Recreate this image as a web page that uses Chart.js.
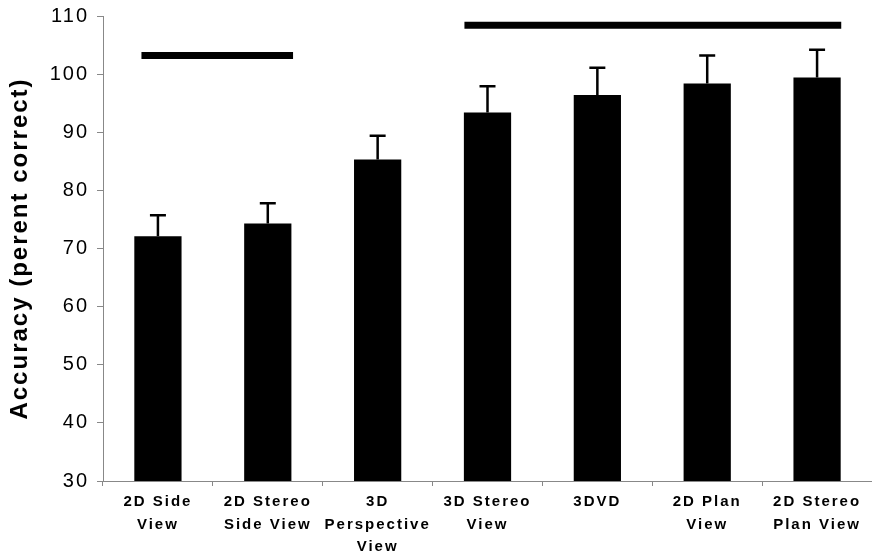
<!DOCTYPE html>
<html>
<head>
<meta charset="utf-8">
<script src="https://cdn.jsdelivr.net/npm/chart.js@4"></script>
<style>
  html, body { margin: 0; background: #fff; }
  #wrap { width: 872px; height: 553px; }
</style>
</head>
<body>
<div id="wrap"><canvas id="chart"></canvas></div>
<script>
var LABELS = [
  ['2D Side', 'View'],
  ['2D Stereo', 'Side View'],
  ['3D', 'Perspective', 'View'],
  ['3D Stereo', 'View'],
  ['3DVD'],
  ['2D Plan', 'View'],
  ['2D Stereo', 'Plan View']
];
var ACCURACY = [72.1, 74.3, 85.3, 93.4, 96.4, 98.4, 99.4];
var ERR_UP = [3.6, 3.5, 4.1, 4.5, 4.7, 4.8, 4.8];
var Y_TICKS = [30, 40, 50, 60, 70, 80, 90, 100, 110];
// grouping bars (in category units) and their height on the y scale
var GROUP_FROM = [-0.15, 2.79];
var GROUP_TO = [1.23, 6.22];
var GROUP_LEVEL = [103.2, 108.4];

// wide letter spacing like the printed figure
function spacing(chart) { chart.ctx.letterSpacing = '2px'; }

var extras = {
  id: 'extras',
  beforeUpdate: spacing,
  beforeLayout: spacing,
  beforeDraw: spacing,
  afterDatasetsDraw: function(chart) {
    var c = chart.ctx;
    var xs = chart.scales.x, ys = chart.scales.y;
    var meta = chart.getDatasetMeta(0);
    c.save();
    c.strokeStyle = '#000';
    c.lineWidth = 2.5;
    meta.data.forEach(function(bar, i) {
      var top = ys.getPixelForValue(ACCURACY[i]);
      var cap = ys.getPixelForValue(ACCURACY[i] + ERR_UP[i]);
      c.beginPath();
      c.moveTo(bar.x, top);
      c.lineTo(bar.x, cap);
      c.moveTo(bar.x - 8, cap);
      c.lineTo(bar.x + 8, cap);
      c.stroke();
    });
    c.lineWidth = 7;
    for (var g = 0; g < GROUP_FROM.length; g++) {
      var y = ys.getPixelForValue(GROUP_LEVEL[g]);
      c.beginPath();
      c.moveTo(xs.getPixelForValue(GROUP_FROM[g]), y);
      c.lineTo(xs.getPixelForValue(GROUP_TO[g]), y);
      c.stroke();
    }
    c.restore();
  }
};

var chart = new Chart(document.getElementById('chart'), {
  type: 'bar',
  data: {
    labels: LABELS,
    datasets: [{
      label: 'Accuracy',
      data: ACCURACY,
      backgroundColor: '#000',
      borderWidth: 0,
      barPercentage: 0.86,
      categoryPercentage: 0.5
    }]
  },
  options: {
    responsive: true,
    maintainAspectRatio: false,
    animation: false,
    layout: { padding: { top: 15, left: 0, right: 0, bottom: 0 } },
    plugins: {
      legend: { display: false },
      tooltip: { enabled: false }
    },
    scales: {
      x: {
        grid: { drawOnChartArea: false, color: '#888', tickLength: 5 },
        border: { color: '#888' },
        ticks: {
          color: '#000',
          padding: 5,
          maxRotation: 0,
          autoSkip: false,
          font: { family: 'Liberation Sans, Arial, sans-serif', size: 15, weight: 'bold', lineHeight: 1.5 }
        },
        afterFit: function(s) { s.height = 72; }
      },
      y: {
        min: 30,
        max: 110,
        afterBuildTicks: function(s) { s.ticks = Y_TICKS.map(function(v) { return { value: v }; }); },
        grid: { drawOnChartArea: false, color: '#888', tickLength: 6 },
        border: { color: '#888' },
        ticks: {
          color: '#000',
          padding: 8,
          font: { family: 'Liberation Sans, Arial, sans-serif', size: 20, lineHeight: 0.8 }
        },
        title: {
          display: true,
          text: 'Accuracy (perent correct)',
          color: '#000',
          padding: { top: 6, bottom: 2 },
          font: { family: 'Liberation Sans, Arial, sans-serif', size: 24, weight: 'bold' }
        },
        afterFit: function(s) { s.width = 103; }
      }
    }
  },
  plugins: [extras]
});
</script>
</body>
</html>
